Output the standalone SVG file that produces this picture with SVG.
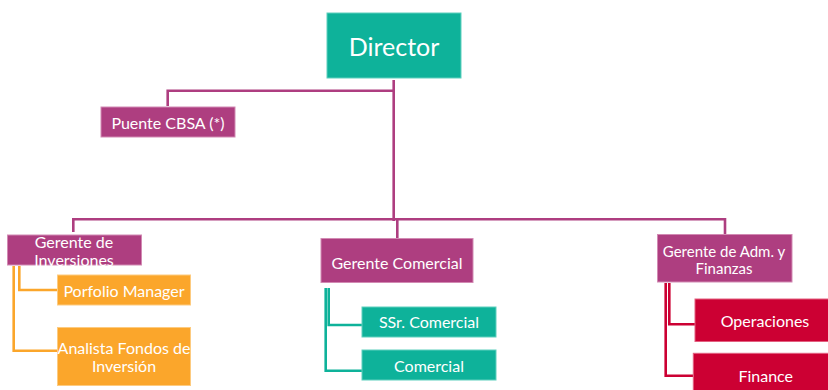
<svg xmlns="http://www.w3.org/2000/svg" width="828" height="390" viewBox="0 0 828 390">
<style>
text{font-family:Lato,"Open Sans","Liberation Sans",sans-serif;fill:#fff;text-anchor:middle;dominant-baseline:central;font-size:16px}
.teal{fill:#0EB29A;stroke:#5FD0BE;stroke-width:1}
.mag{fill:#AE3E80;stroke:#D28AB3;stroke-width:1}
.org{fill:#FBA62B;stroke:#FDCB80;stroke-width:1}
.red{fill:#CC0033;stroke:#E36080;stroke-width:1}
.c{fill:none;stroke-width:2.6}
.cm{stroke:#AE3E80}
.co{stroke:#FBA62B}
.ct{stroke:#0EB29A}
.cr{stroke:#CC0033}
</style>
<g id="connectors">
<path class="c cm" d="M393.7 80 V221 M393.7 90.8 H167.7 V106 M73.3 232 V219.3 H725 V234 M397.3 219.3 V238"/>
<path class="c co" d="M19.3 266 V290 H57 M13.7 266 V350.7 H57"/>
<path class="c ct" d="M328.7 288 V325 H362 M325.7 288 V370.7 H362"/>
<path class="c cr" d="M669.3 283 V324.3 H695 M665.7 283 V375.7 H693"/>
</g>
<g id="director"><rect class="teal" x="327" y="13" width="134" height="65"/><text x="394" y="45.5" style="font-size:25px">Director</text></g>
<g id="puente"><rect class="mag" x="101" y="107" width="134" height="30"/><text x="168" y="122">Puente CBSA (*)</text></g>
<g id="gerente-inversiones"><rect class="mag" x="7.5" y="235" width="134" height="30"/><text x="74" y="241.6">Gerente de</text><text x="74" y="259.4">Inversiones</text></g>
<g id="porfolio"><rect class="org" x="57.5" y="275" width="133" height="30"/><text x="124" y="290">Porfolio Manager</text></g>
<g id="analista"><rect class="org" x="57.5" y="327.5" width="133" height="58"/><text x="124" y="347.3">Analista Fondos de</text><text x="124" y="365">Inversión</text></g>
<g id="gerente-comercial"><rect class="mag" x="321" y="238.5" width="152" height="44"/><text x="397" y="262">Gerente Comercial</text></g>
<g id="ssr-comercial"><rect class="teal" x="362" y="307" width="134" height="30"/><text x="429" y="321.5">SSr. Comercial</text></g>
<g id="comercial"><rect class="teal" x="362" y="350" width="134" height="30"/><text x="429" y="365">Comercial</text></g>
<g id="gerente-adm"><rect class="mag" x="657.5" y="234.5" width="134.5" height="47.5"/><text x="724" y="250.7" style="font-size:15px">Gerente de Adm. y</text><text x="724" y="268.3" style="font-size:15px">Finanzas</text></g>
<g id="operaciones"><rect class="red" x="695" y="299" width="140" height="42.5"/><text x="765" y="320.7">Operaciones</text></g>
<g id="finance"><rect class="red" x="693.3" y="353.3" width="140" height="45"/><text x="765.7" y="375">Finance</text></g>
</svg>
